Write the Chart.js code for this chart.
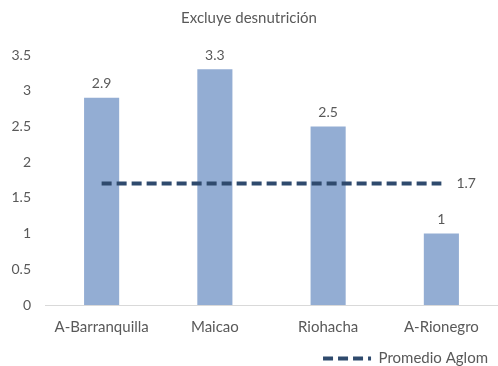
<!DOCTYPE html>
<html>
<head>
<meta charset="utf-8">
<script src="https://cdn.jsdelivr.net/npm/chart.js@4"></script>
<style>
  body { margin: 0; background: #fff; }
  canvas { display: block; }
</style>
</head>
<body>
<canvas id="myCanvas" width="498" height="366"></canvas>
<script>
const categories = ['A-Barranquilla', 'Maicao', 'Riohacha', 'A-Rionegro']
const valores = [2.9, 3.3, 2.5, 1]
const promedio = [1.7, 1.7, 1.7, 1.7]
const yTicks = ['0', '0.5', '1', '1.5', '2', '2.5', '3', '3.5']
const titulo = 'Excluye desnutrición'
const nombrePromedio = 'Promedio Aglom'

const gris = '#595959'
const fuente = 'Lato, "Open Sans", sans-serif'
Chart.defaults.font.family = fuente
Chart.defaults.font.size = 14
Chart.defaults.color = gris

// etiquetas de valores sobre las barras y al final de la linea
const etiquetas = {
  id: 'etiquetas',
  afterDatasetsDraw(chart) {
    const ctx = chart.ctx
    ctx.save()
    ctx.fillStyle = gris
    ctx.font = '14px ' + fuente
    const barras = chart.getDatasetMeta(0).data
    ctx.textAlign = 'center'
    ctx.textBaseline = 'bottom'
    barras.forEach((b, i) => {
      ctx.fillText(String(valores[i]), b.x, b.y - 7)
    })
    const puntos = chart.getDatasetMeta(1).data
    const ultimo = puntos[puntos.length - 1]
    ctx.textAlign = 'left'
    ctx.textBaseline = 'middle'
    ctx.fillText(String(promedio[promedio.length - 1]), ultimo.x + 15, ultimo.y)
    ctx.restore()
  }
}

let grafic = document.querySelector('#myCanvas').getContext('2d')
let myChart = new Chart(grafic, {
  type: 'bar',
  data: {
    labels: categories,
    datasets: [{
      label: 'Valor',
      data: valores,
      backgroundColor: '#93ADD3',
      barPercentage: 0.62,
      categoryPercentage: 0.5,
      order: 2
    },
    {
      type: 'line',
      label: nombrePromedio,
      data: promedio,
      borderColor: '#2F4A6D',
      borderWidth: 4,
      borderDash: [10, 5],
      pointRadius: 0,
      fill: false,
      order: 1
    }]
  },
  plugins: [etiquetas],
  options: {
    responsive: false,
    animation: false,
    layout: { padding: { left: 0, right: 0, top: 0, bottom: -10 } },
    scales: {
      x: {
        grid: { display: false },
        border: { color: '#D9D9D9', width: 1 },
        ticks: { color: gris, padding: 5, font: { size: 15 } }
      },
      y: {
        min: 0,
        max: 3.5,
        afterFit: axis => { axis.width = 45 },
        ticks: {
          stepSize: 0.5,
          color: gris,
          padding: 6,
          callback: (v, i) => yTicks[i]
        },
        grid: { display: false },
        border: { display: false }
      }
    },
    plugins: {
      title: {
        display: true,
        text: titulo,
        color: gris,
        font: { size: 15, weight: 'normal' },
        padding: { top: 9, bottom: 28 }
      },
      legend: {
        position: 'bottom',
        align: 'end',
        labels: {
          usePointStyle: true,
          pointStyleWidth: 48,
          color: gris,
          font: { size: 15 },
          padding: 10,
          filter: item => item.datasetIndex === 1,
          generateLabels: chart => [{
            text: nombrePromedio,
            datasetIndex: 1,
            pointStyle: 'line',
            strokeStyle: '#2F4A6D',
            fillStyle: '#2F4A6D',
            lineWidth: 4,
            lineDash: [10, 5],
            fontColor: gris
          }]
        }
      },
      tooltip: { enabled: false }
    }
  }
})
</script>
</body>
</html>
